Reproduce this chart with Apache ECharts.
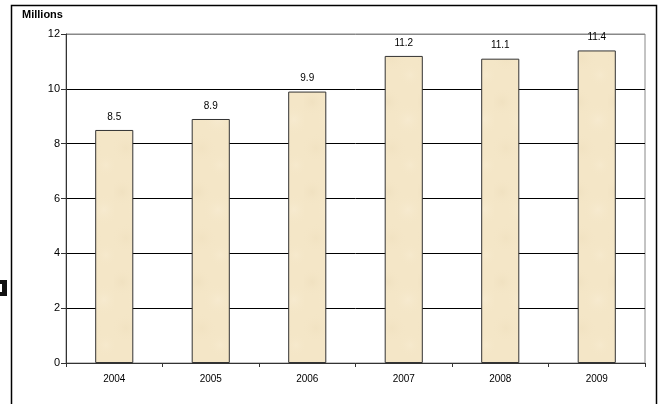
<!DOCTYPE html>
<html><head><meta charset="utf-8">
<script src="https://cdn.jsdelivr.net/npm/echarts@6/dist/echarts.min.js"></script>
<style>html,body{margin:0;padding:0;background:#fff}#c{width:659px;height:404px}</style>
</head><body><div id="c"></div>
<script>
var categories = ['2004','2005','2006','2007','2008','2009'];
var values = [8.5, 8.9, 9.9, 11.2, 11.1, 11.4];
var yTicks = [0, 2, 4, 6, 8, 10, 12];

// parchment texture for bar fill
function makeTexture(){
  var cv = document.createElement('canvas');
  cv.width = 38; cv.height = 90;
  var ctx = cv.getContext('2d');
  ctx.fillStyle = '#f4e6c7';
  ctx.fillRect(0,0,38,90);
  var spots = [[8,12,14,'rgba(236,220,186,0.5)'],[28,30,16,'rgba(249,238,214,0.5)'],[12,58,15,'rgba(238,222,188,0.45)'],[30,75,12,'rgba(248,236,210,0.5)']];
  spots.forEach(function(s){
    var g = ctx.createRadialGradient(s[0],s[1],0,s[0],s[1],s[2]);
    g.addColorStop(0,s[3]); g.addColorStop(1,'rgba(244,230,199,0)');
    ctx.fillStyle = g; ctx.fillRect(0,0,38,90);
  });
  return cv;
}

var chart = echarts.init(document.getElementById('c'), null, {renderer:'canvas'});
var font = '"Liberation Sans", Arial, sans-serif';
chart.setOption({
  animation: false,
  textStyle: {fontFamily: font},
  grid: {left: 66, right: 14, top: 34, bottom: 41, show: true, borderColor: '#888', borderWidth: 1, backgroundColor: 'transparent'},
  graphic: [
    {type:'rect', shape:{x:11.5, y:5.5, width:645, height:420}, style:{fill:'none', stroke:'#000', lineWidth:1.5}, silent:true},
    {type:'rect', shape:{x:0, y:280, width:7, height:16}, style:{fill:'#111'}, silent:true},
    {type:'rect', shape:{x:0, y:284, width:2, height:8}, style:{fill:'#fff'}, silent:true},
    {type:'text', left:22, top:9, style:{text:'Millions', font:'bold 11px ' + font, fill:'#000'}}
  ],
  xAxis: {
    type: 'category', data: categories,
    axisLine: {lineStyle: {color: '#333', width: 1}},
    axisTick: {show: true, length: 4, lineStyle:{color:'#333'}},
    axisLabel: {color: '#000', fontSize: 10, margin: 11, fontFamily: font}
  },
  yAxis: {
    type: 'value', min: yTicks[0], max: yTicks[yTicks.length-1], interval: 2,
    axisLine: {show: true, lineStyle: {color: '#333', width: 1}},
    axisTick: {show: true, length: 5, lineStyle:{color:'#333'}},
    axisLabel: {color: '#000', fontSize: 11, margin: 6, fontFamily: font},
    splitLine: {show: true, lineStyle: {color: ['#000','#000','#000','#000','#000','#000','#888'], width: 1}}
  },
  series: [{
    type: 'bar', data: values, barWidth: '39.5%',
    itemStyle: {color: {image: makeTexture(), repeat: 'repeat'}, borderColor: '#333', borderWidth: 1},
    label: {show: true, position: 'top', distance: 8, color: '#000', fontSize: 10, fontFamily: font}
  }]
});
</script></body></html>
